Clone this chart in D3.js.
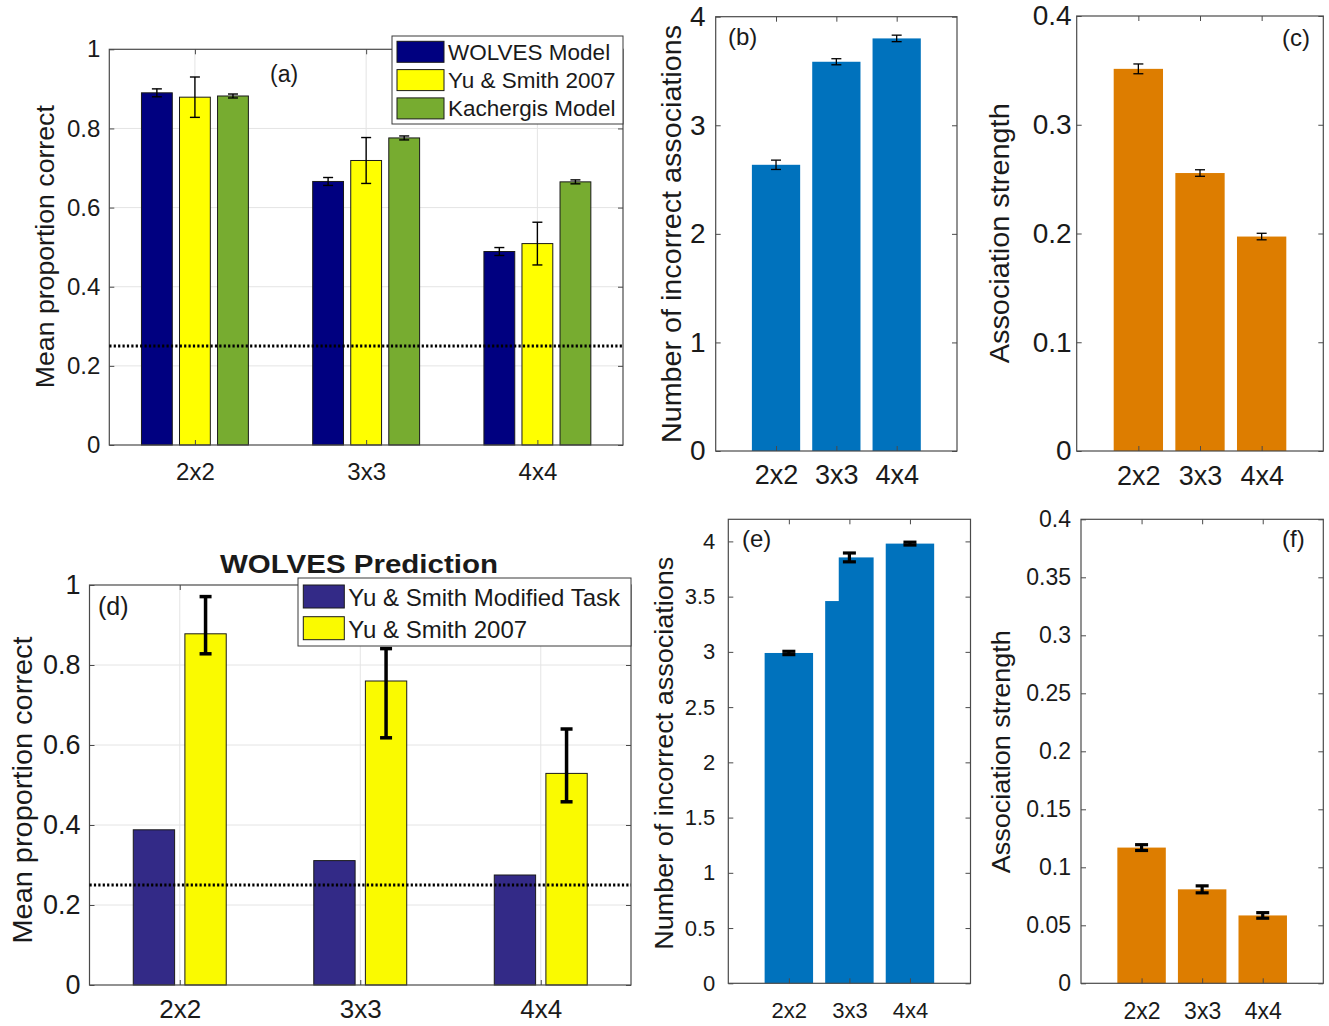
<!DOCTYPE html>
<html><head><meta charset="utf-8">
<script src="https://cdn.jsdelivr.net/npm/d3@7"></script>
<style>
body{margin:0;background:#fff}
svg{display:block}
text{font-family:"Liberation Sans",Arial,Helvetica,sans-serif;fill:#1a1a1a}
</style>
</head><body>
<svg id="chart" width="1329" height="1026"></svg>
<script>
// ---------------- DATA ----------------
const categories = ["2x2", "3x3", "4x4"];

// Panel (a)
const aSeriesNames = ["WOLVES Model", "Yu & Smith 2007", "Kachergis Model"];
const aWolves = [0.890, 0.666, 0.489];
const aWolvesErr = [0.010, 0.010, 0.010];
const aYuSmith = [0.879, 0.719, 0.509];
const aYuSmithErr = [0.051, 0.058, 0.054];
const aKachergis = [0.882, 0.776, 0.665];
const aKachergisErr = [0.005, 0.005, 0.005];
const aTicks = [0, 0.2, 0.4, 0.6, 0.8, 1];
const aTickLabels = ["0", "0.2", "0.4", "0.6", "0.8", "1"];
const chanceLevel = 0.25;

// Panel (b)
const bValues = [2.636, 3.585, 3.800];
const bErr = [0.043, 0.028, 0.030];
const bTicks = [0, 1, 2, 3, 4];
const bTickLabels = ["0", "1", "2", "3", "4"];

// Panel (c)
const cValues = [0.3514, 0.2556, 0.1972];
const cErr = [0.0045, 0.003, 0.003];
const cTicks = [0, 0.1, 0.2, 0.3, 0.4];
const cTickLabels = ["0", "0.1", "0.2", "0.3", "0.4"];

// Panel (d)
const dTitle = "WOLVES Prediction";
const dSeriesNames = ["Yu & Smith Modified Task", "Yu & Smith 2007"];
const dModified = [0.388, 0.311, 0.275];
const dYuSmith = [0.878, 0.760, 0.529];
const dYuSmithLow = [0.828, 0.618, 0.458];
const dYuSmithHigh = [0.971, 0.841, 0.640];
const dTicks = [0, 0.2, 0.4, 0.6, 0.8, 1];
const dTickLabels = ["0", "0.2", "0.4", "0.6", "0.8", "1"];

// Panel (e)
const eValues = [2.990, 3.855, 3.980];
const eErr = [0.015, 0.040, 0.013];
const eStepValues = [null, 3.46, null];   // rendering step visible on the 3x3 bar
const eTicks = [0, 0.5, 1, 1.5, 2, 2.5, 3, 3.5, 4];
const eTickLabels = ["0", "0.5", "1", "1.5", "2", "2.5", "3", "3.5", "4"];

// Panel (f)
const fValues = [0.117, 0.081, 0.0585];
const fErr = [0.0025, 0.003, 0.0024];
const fTicks = [0, 0.05, 0.1, 0.15, 0.2, 0.25, 0.3, 0.35, 0.4];
const fTickLabels = ["0", "0.05", "0.1", "0.15", "0.2", "0.25", "0.3", "0.35", "0.4"];

// ---------------- DRAWING ----------------
const svg = d3.select("#chart");
svg.append("rect").attr("width", 1329).attr("height", 1026).attr("fill", "#fff");
const AXIS = "#4a4a4a";
const catIdx = categories.map((c, i) => i + 1);

function makePanel(cfg) {
  const x = d3.scaleLinear().domain(cfg.xDomain).range([cfg.left, cfg.right]);
  const y = d3.scaleLinear().domain(cfg.yDomain).range([cfg.bottom, cfg.top]);
  const g = svg.append("g");
  if (cfg.grid) {
    const gg = g.append("g").attr("stroke", "#e4e4e4").attr("stroke-width", 1);
    gg.selectAll(null).data(cfg.ticks.filter(t => t > cfg.yDomain[0] && t < cfg.yDomain[1]))
      .enter().append("line")
      .attr("x1", cfg.left).attr("x2", cfg.right)
      .attr("y1", d => y(d)).attr("y2", d => y(d));
    gg.selectAll(null).data(catIdx).enter().append("line")
      .attr("x1", d => x(d)).attr("x2", d => x(d))
      .attr("y1", cfg.top).attr("y2", cfg.bottom);
  }
  return { x, y, g, cfg };
}

function styleAxis(sel, fs) {
  sel.attr("font-family", null).attr("font-size", null);
  sel.select(".domain").remove();
  sel.selectAll(".tick line").attr("stroke", AXIS);
  sel.selectAll(".tick text").attr("fill", "#1a1a1a").style("font-size", fs + "px");
}

function drawAxes(p) {
  const { x, y, g, cfg } = p;
  const t = cfg.tickLen;
  const fmtY = (d) => cfg.tickLabels[cfg.ticks.indexOf(d)];
  g.append("g").attr("transform", `translate(0,${cfg.bottom})`)
    .call(d3.axisBottom(x).tickValues(catIdx).tickFormat(i => categories[i - 1])
      .tickSizeInner(-t).tickSizeOuter(0).tickPadding(cfg.xPad))
    .call(s => styleAxis(s, cfg.fsX));
  g.append("g").attr("transform", `translate(0,${cfg.top})`)
    .call(d3.axisTop(x).tickValues(catIdx).tickFormat("").tickSizeInner(-t).tickSizeOuter(0))
    .call(s => styleAxis(s, cfg.fsX));
  g.append("g").attr("transform", `translate(${cfg.left},0)`)
    .call(d3.axisLeft(y).tickValues(cfg.ticks).tickFormat(fmtY)
      .tickSizeInner(-t).tickSizeOuter(0).tickPadding(cfg.yPad))
    .call(s => styleAxis(s, cfg.fsY));
  g.append("g").attr("transform", `translate(${cfg.right},0)`)
    .call(d3.axisRight(y).tickValues(cfg.ticks).tickFormat("").tickSizeInner(-t).tickSizeOuter(0))
    .call(s => styleAxis(s, cfg.fsY));
  g.append("rect")
    .attr("x", cfg.left).attr("y", cfg.top)
    .attr("width", cfg.right - cfg.left).attr("height", cfg.bottom - cfg.top)
    .attr("fill", "none").attr("stroke", AXIS).attr("stroke-width", 1.2);
}

function yLabel(p, text, bx, cy, fs, len) {
  p.g.append("text")
    .attr("transform", `translate(${bx},${cy}) rotate(-90)`)
    .attr("text-anchor", "middle")
    .attr("font-size", fs)
    .attr("textLength", len).attr("lengthAdjust", "spacingAndGlyphs")
    .text(text);
}

function panelTag(p, text, x, y, fs) {
  p.g.append("text").attr("x", x).attr("y", y).attr("font-size", fs).text(text);
}

function bars(p, values, offset, width, fill, stroke, sw) {
  const { x, y, g } = p;
  const w = x(width) - x(0);
  g.append("g").selectAll("rect").data(values).enter().append("rect")
    .attr("x", (d, i) => x(i + 1 + offset) - w / 2)
    .attr("y", d => y(d))
    .attr("width", w)
    .attr("height", d => y(0) - y(d))
    .attr("fill", fill)
    .attr("stroke", stroke || "none")
    .attr("stroke-width", sw || 0);
}

function errorBars(p, offset, lows, highs, capHalf, lw) {
  const { x, y, g } = p;
  const eg = g.append("g").attr("stroke", "#000").attr("stroke-width", lw).attr("fill", "none");
  lows.forEach((lo, i) => {
    const cx = x(i + 1 + offset);
    eg.append("line").attr("x1", cx).attr("x2", cx).attr("y1", y(lo)).attr("y2", y(highs[i]));
    eg.append("line").attr("x1", cx - capHalf).attr("x2", cx + capHalf).attr("y1", y(lo)).attr("y2", y(lo));
    eg.append("line").attr("x1", cx - capHalf).attr("x2", cx + capHalf).attr("y1", y(highs[i])).attr("y2", y(highs[i]));
  });
}
const lo = (v, e) => v.map((d, i) => d - e[i]);
const hi = (v, e) => v.map((d, i) => d + e[i]);

function chanceLine(p, value) {
  const { x, y, g, cfg } = p;
  g.append("line")
    .attr("x1", cfg.left).attr("x2", cfg.right)
    .attr("y1", y(value)).attr("y2", y(value))
    .attr("stroke", "#000").attr("stroke-width", 3)
    .attr("stroke-dasharray", "2.2,2.2");
}

function legend(g, names, colors, box, sw, fs, pad) {
  const lg = g.append("g");
  lg.append("rect").attr("x", box.x).attr("y", box.y).attr("width", box.w).attr("height", box.h)
    .attr("fill", "#fff").attr("stroke", "#3a3a3a").attr("stroke-width", 1);
  names.forEach((n, i) => {
    const cy = box.y + pad.top + i * pad.step + sw.h / 2;
    lg.append("rect").attr("x", box.x + pad.left).attr("y", cy - sw.h / 2)
      .attr("width", sw.w).attr("height", sw.h)
      .attr("fill", colors[i]).attr("stroke", "#1a1a1a").attr("stroke-width", 1);
    lg.append("text").attr("x", box.x + pad.left + sw.w + pad.gap).attr("y", cy + pad.base)
      .attr("font-size", fs).text(n);
  });
}

// ---------- Panel (a) ----------
const A = makePanel({ left: 109.3, right: 623, top: 49.3, bottom: 445, xDomain: [0.5, 3.5], yDomain: [0, 1],
  ticks: aTicks, tickLabels: aTickLabels, tickLen: 5, fsX: 24, fsY: 24, xPad: 18, yPad: 9, grid: true });
const aColors = ["#000080", "#ffff00", "#77ac30"];
const aOff = [-0.2222, 0, 0.2222];
const aBw = 0.18;
bars(A, aWolves, aOff[0], aBw, aColors[0], "#1a1a1a", 1);
bars(A, aYuSmith, aOff[1], aBw, aColors[1], "#1a1a1a", 1);
bars(A, aKachergis, aOff[2], aBw, aColors[2], "#1a1a1a", 1);
errorBars(A, aOff[0], lo(aWolves, aWolvesErr), hi(aWolves, aWolvesErr), 5, 1.4);
errorBars(A, aOff[1], lo(aYuSmith, aYuSmithErr), hi(aYuSmith, aYuSmithErr), 5, 1.4);
errorBars(A, aOff[2], lo(aKachergis, aKachergisErr), hi(aKachergis, aKachergisErr), 5, 1.4);
drawAxes(A);
chanceLine(A, chanceLevel);
yLabel(A, "Mean proportion correct", 53.5, 246.7, 25, 283);
panelTag(A, "(a)", 270, 82, 23);
legend(svg, aSeriesNames, aColors, { x: 392, y: 36, w: 231, h: 88 }, { w: 47, h: 21 }, 22.5,
  { left: 5, top: 5.3, step: 28.3, gap: 4, base: 7.8 });

// ---------- Panel (b) ----------
const B = makePanel({ left: 715.7, right: 957, top: 16.7, bottom: 451, xDomain: [0, 4], yDomain: [0, 4],
  ticks: bTicks, tickLabels: bTickLabels, tickLen: 5, fsX: 27, fsY: 28, xPad: 14, yPad: 10, grid: false });
bars(B, bValues, 0, 0.8, "#0072bd");
errorBars(B, 0, lo(bValues, bErr), hi(bValues, bErr), 5, 1.3);
drawAxes(B);
yLabel(B, "Number of incorrect associations", 681, 234, 28, 418);
panelTag(B, "(b)", 728, 45, 24);

// ---------- Panel (c) ----------
const C = makePanel({ left: 1076.7, right: 1323.3, top: 16, bottom: 451, xDomain: [0, 4], yDomain: [0, 0.4],
  ticks: cTicks, tickLabels: cTickLabels, tickLen: 5, fsX: 27, fsY: 28, xPad: 15, yPad: 5, grid: false });
bars(C, cValues, 0, 0.8, "#dd7d00");
errorBars(C, 0, lo(cValues, cErr), hi(cValues, cErr), 5, 1.3);
drawAxes(C);
yLabel(C, "Association strength", 1009, 233.3, 27, 260);
panelTag(C, "(c)", 1282, 45.5, 24);

// ---------- Panel (d) ----------
const D = makePanel({ left: 89.5, right: 631, top: 585, bottom: 985, xDomain: [0.5, 3.5], yDomain: [0, 1],
  ticks: dTicks, tickLabels: dTickLabels, tickLen: 5, fsX: 26, fsY: 27, xPad: 15, yPad: 9, grid: true });
const dColors = ["#332a87", "#fafa00"];
const dOff = [-0.143, 0.143];
const dBw = 0.229;
bars(D, dModified, dOff[0], dBw, dColors[0], "#1a1a1a", 1);
bars(D, dYuSmith, dOff[1], dBw, dColors[1], "#1a1a1a", 1);
errorBars(D, dOff[1], dYuSmithLow, dYuSmithHigh, 6, 3.5);
drawAxes(D);
chanceLine(D, chanceLevel);
yLabel(D, "Mean proportion correct", 31.5, 790, 28, 307);
panelTag(D, "(d)", 98, 615, 25);
D.g.append("text").attr("x", 359).attr("y", 572.7).attr("text-anchor", "middle")
  .attr("font-size", 25).attr("font-weight", "bold")
  .attr("textLength", 278).attr("lengthAdjust", "spacingAndGlyphs").text(dTitle);
legend(svg, dSeriesNames, dColors, { x: 298, y: 578, w: 333, h: 68 }, { w: 41, h: 23 }, 24,
  { left: 5.3, top: 7, step: 31.7, gap: 4, base: 9.5 });

// ---------- Panel (e) ----------
const E = makePanel({ left: 728.3, right: 970.5, top: 519.3, bottom: 983.3, xDomain: [0, 4], yDomain: [0, 4.2],
  ticks: eTicks, tickLabels: eTickLabels, tickLen: 5, fsX: 22, fsY: 22, xPad: 19, yPad: 13, grid: false });
bars(E, eValues, 0, 0.8, "#0072bd");
// the step on the 3x3 bar: blank out its upper-left part down to the step value
{
  const w = E.x(0.8) - E.x(0);
  E.g.append("g").selectAll("rect").data(eStepValues.map((s, i) => ({ s, i })).filter(d => d.s !== null))
    .enter().append("rect")
    .attr("x", d => E.x(d.i + 1) - w / 2 - 0.5)
    .attr("y", d => E.y(eValues[d.i]) - 0.5)
    .attr("width", w * 0.28 + 0.5)
    .attr("height", d => E.y(d.s) - E.y(eValues[d.i]) + 0.5)
    .attr("fill", "#fff");
}
errorBars(E, 0, lo(eValues, eErr), hi(eValues, eErr), 6.5, 3.2);
drawAxes(E);
yLabel(E, "Number of incorrect associations", 673, 753.3, 25, 393);
panelTag(E, "(e)", 742, 547, 24);

// ---------- Panel (f) ----------
const F = makePanel({ left: 1081, right: 1323.3, top: 519.3, bottom: 983.3, xDomain: [0, 4], yDomain: [0, 0.4],
  ticks: fTicks, tickLabels: fTickLabels, tickLen: 5, fsX: 23, fsY: 23, xPad: 19, yPad: 10, grid: false });
bars(F, fValues, 0, 0.8, "#dd7d00");
errorBars(F, 0, lo(fValues, fErr), hi(fValues, fErr), 6.5, 3.2);
drawAxes(F);
yLabel(F, "Association strength", 1010, 751.7, 25, 243);
panelTag(F, "(f)", 1282, 547, 24);
</script>
</body></html>
